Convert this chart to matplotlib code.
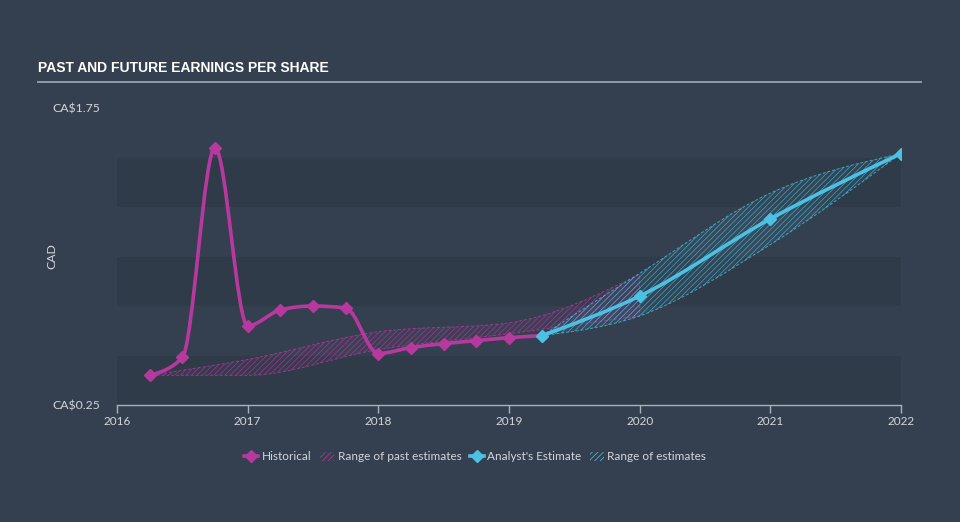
import numpy as np
import matplotlib
matplotlib.use('Agg')
import matplotlib.pyplot as plt
from matplotlib.path import Path
from matplotlib.patches import PathPatch, Patch
from matplotlib.lines import Line2D

# Historical EPS (quarterly, decimal years)
hist_x = [2016.25, 2016.5, 2016.75, 2017.0, 2017.25, 2017.5, 2017.75,
          2018.0, 2018.25, 2018.5, 2018.75, 2019.0, 2019.25]
hist_y = [0.40, 0.49, 1.55, 0.65, 0.73, 0.75, 0.74,
          0.51, 0.54, 0.56, 0.575, 0.59, 0.60]

# Range of past estimates
past_x = [2016.25, 2017.0, 2018.0, 2019.0, 2020.0]
past_low = [0.40, 0.40, 0.53, 0.61, 0.70]
past_high = [0.40, 0.48, 0.62, 0.665, 0.91]

# Analyst estimates
est_x = [2019.25, 2020.0, 2021.0, 2022.0]
est_y = [0.60, 0.80, 1.19, 1.52]
est_low = [0.60, 0.70, 1.06, 1.52]
est_high = [0.60, 0.915, 1.32, 1.52]

years = [2016, 2017, 2018, 2019, 2020, 2021, 2022]
ytick_vals = [0.25, 1.75]
ytick_labels = ['CA$0.25', 'CA$1.75']

BG = '#344050'
BAND = '#2f3b49'
MAG = '#b8399e'
CYAN = '#4cc1e4'
TXT = '#d2d6db'
AXC = '#a9b1b9'
HATCH = '//////'

plt.rcParams['font.family'] = ['Lato', 'DejaVu Sans']
plt.rcParams['hatch.linewidth'] = 0.5


def monotone_segments(xs, ys):
    """Bezier vertices of a d3 style monotoneX curve through the points."""
    xs = np.asarray(xs, float)
    ys = np.asarray(ys, float)
    n = len(xs)
    h = np.diff(xs)
    s = np.diff(ys) / h
    t = np.zeros(n)
    for i in range(1, n - 1):
        p = (s[i - 1] * h[i] + s[i] * h[i - 1]) / (h[i - 1] + h[i])
        t[i] = (np.sign(s[i - 1]) + np.sign(s[i])) * min(abs(s[i - 1]), abs(s[i]), 0.5 * abs(p))
    if n > 2:
        t[0] = (3 * s[0] - t[1]) / 2
        t[-1] = (3 * s[-1] - t[-2]) / 2
    else:
        t[:] = s[0]
    verts = []
    for i in range(n - 1):
        dx = h[i] / 3
        verts += [(xs[i] + dx, ys[i] + dx * t[i]),
                  (xs[i + 1] - dx, ys[i + 1] - dx * t[i + 1]),
                  (xs[i + 1], ys[i + 1])]
    return [(xs[0], ys[0])], verts


def curve_path(xs, ys):
    start, verts = monotone_segments(xs, ys)
    codes = [Path.MOVETO] + [Path.CURVE4] * len(verts)
    return Path(start + verts, codes)


def band_path(xs, low, high):
    s1, v1 = monotone_segments(xs, high)
    s2, v2 = monotone_segments(xs[::-1], low[::-1])
    verts = s1 + v1 + s2 + v2 + [s1[0]]
    codes = ([Path.MOVETO] + [Path.CURVE4] * len(v1) + [Path.LINETO]
             + [Path.CURVE4] * len(v2) + [Path.CLOSEPOLY])
    return Path(verts, codes)


fig = plt.figure(figsize=(9.6, 5.22), dpi=100, facecolor=BG)
ax = fig.add_axes([117 / 960, 1 - 405 / 522, 784 / 960, 297 / 522])
ax.set_facecolor('none')

# Alternating horizontal bands
for lo in [0.25, 0.75, 1.25]:
    ax.axhspan(lo, lo + 0.25, color=BAND, lw=0, zorder=0)

# Hatched ranges
for xs, low, high, col in [(past_x, past_low, past_high, MAG),
                           (est_x, est_low, est_high, CYAN)]:
    rgb = matplotlib.colors.to_rgb(col)
    ax.add_patch(PathPatch(band_path(xs, low, high), facecolor=(*rgb, 0.08),
                           edgecolor=(*rgb, 0.75), hatch=HATCH, lw=0.7,
                           ls=(0, (3, 2)), zorder=2))

# Lines
ax.add_patch(PathPatch(curve_path(hist_x, hist_y), fill=False, edgecolor=MAG,
                       lw=2.6, capstyle='round', joinstyle='round', zorder=3))
ax.plot(hist_x, hist_y, ls='none', marker='D', ms=6, color=MAG, zorder=4)
ax.add_patch(PathPatch(curve_path(est_x, est_y), fill=False, edgecolor=CYAN,
                       lw=2.6, capstyle='round', joinstyle='round', zorder=5))
ax.plot(est_x, est_y, ls='none', marker='D', ms=6, color=CYAN, zorder=6)

ax.set_xlim(years[0], years[-1])
ax.set_ylim(ytick_vals[0], ytick_vals[-1])
for side in ['top', 'right', 'left']:
    ax.spines[side].set_visible(False)
ax.spines['bottom'].set_color(AXC)
ax.spines['bottom'].set_linewidth(1)
ax.set_xticks(years)
ax.set_xticklabels([str(y) for y in years])
ax.tick_params(axis='x', colors=AXC, labelcolor=TXT, length=6, width=1,
               labelsize=8.5, pad=2)
ax.set_yticks(ytick_vals)
ax.set_yticklabels(ytick_labels)
ax.tick_params(axis='y', length=0, labelcolor=TXT, labelsize=8.8, pad=12)
ax.set_ylabel('CAD', color=TXT, fontsize=8.8)
ax.yaxis.set_label_coords(-(117 - 57) / 784, 0.5)

# Title and underline
fig.text(38 / 960, 1 - 68 / 522, 'PAST AND FUTURE EARNINGS PER SHARE',
         family=['Liberation Sans Narrow', 'Liberation Sans', 'DejaVu Sans'],
         weight='bold', fontsize=10, color='white', va='center', ha='left')
fig.add_artist(Line2D([38 / 960, 921 / 960], [1 - 82 / 522, 1 - 82 / 522],
                      color='#9aa3ac', lw=1.3, transform=fig.transFigure))

# Legend
handles = [
    Line2D([], [], color=MAG, marker='D', ms=6, lw=2.6),
    Patch(facecolor='none', edgecolor=MAG, hatch=HATCH, lw=0),
    Line2D([], [], color=CYAN, marker='D', ms=6, lw=2.6),
    Patch(facecolor='none', edgecolor=CYAN, hatch=HATCH, lw=0),
]
labels = ['Historical', 'Range of past estimates', "Analyst's Estimate", 'Range of estimates']
leg = fig.legend(handles, labels, loc='center', bbox_to_anchor=(0.495, 1 - 457 / 522),
                 ncol=4, frameon=False, fontsize=8.5, handlelength=1.2,
                 handletextpad=0.3, columnspacing=0.7, labelcolor=TXT)

fig.savefig('out.png', dpi=100, facecolor=BG)
